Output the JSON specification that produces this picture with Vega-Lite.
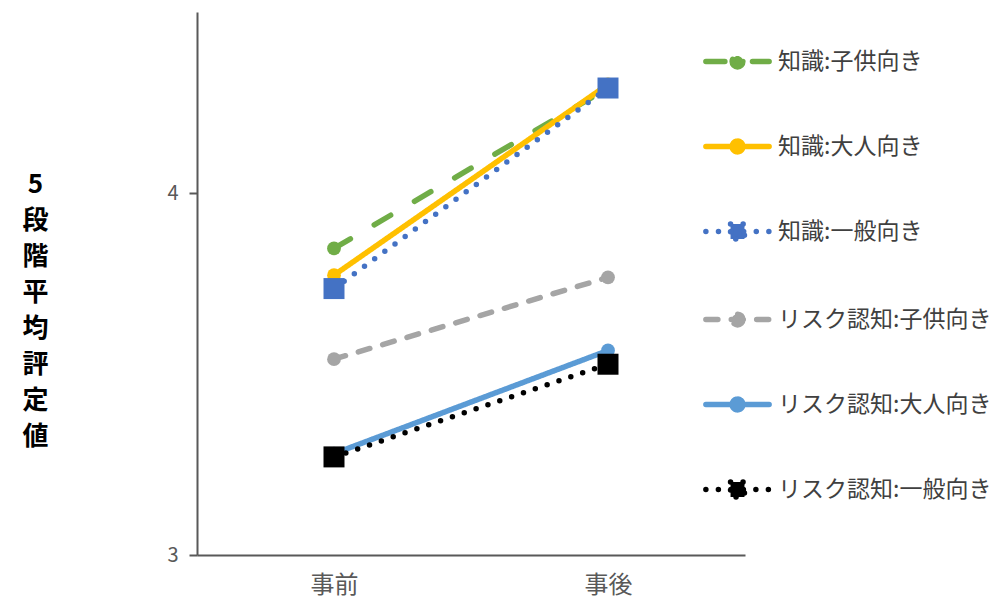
{
  "$schema": "https://vega.github.io/schema/vega-lite/v6.json",
  "autosize": {"type": "none"},
  "padding": {"left": 197, "top": 12, "right": 247, "bottom": 54},
  "width": 548,
  "height": 543,
  "background": "white",
  "config": {
    "view": {"stroke": null},
    "font": "Noto Sans CJK JP"
  },
  "data": {
    "values": [
      {"series": "知識:子供向き", "time": "事前", "value": 3.847},
      {"series": "知識:子供向き", "time": "事後", "value": 4.29},
      {"series": "知識:大人向き", "time": "事前", "value": 3.773},
      {"series": "知識:大人向き", "time": "事後", "value": 4.3},
      {"series": "知識:一般向き", "time": "事前", "value": 3.736},
      {"series": "知識:一般向き", "time": "事後", "value": 4.29},
      {"series": "リスク認知:子供向き", "time": "事前", "value": 3.541},
      {"series": "リスク認知:子供向き", "time": "事後", "value": 3.767},
      {"series": "リスク認知:大人向き", "time": "事前", "value": 3.28},
      {"series": "リスク認知:大人向き", "time": "事後", "value": 3.565},
      {"series": "リスク認知:一般向き", "time": "事前", "value": 3.271},
      {"series": "リスク認知:一般向き", "time": "事後", "value": 3.527}
    ]
  },
  "encoding": {
    "x": {
      "field": "time",
      "type": "nominal",
      "sort": ["事前", "事後"],
      "scale": {"type": "point", "padding": 0.5},
      "axis": {
        "title": null,
        "ticks": false,
        "labelAngle": 0,
        "labelFontSize": 24,
        "labelColor": "#595959",
        "labelPadding": 18,
        "domainColor": "#595959",
        "domainWidth": 2
      }
    },
    "y": {
      "field": "value",
      "type": "quantitative",
      "scale": {"domain": [3, 4.5], "nice": false, "zero": false},
      "axis": {
        "values": [3, 4],
        "grid": false,
        "format": "d",
        "labelFontSize": 20,
        "labelColor": "#595959",
        "labelPadding": 11,
        "tickSize": 8,
        "tickWidth": 2,
        "tickColor": "#595959",
        "domainColor": "#595959",
        "domainWidth": 2,
        "title": ["5", "段", "階", "平", "均", "評", "定", "値"],
        "titleAngle": 0,
        "titleFontSize": 26,
        "titleFontWeight": "bold",
        "titleColor": "#000000",
        "titleLineHeight": 36,
        "titleAlign": "center",
        "titleBaseline": "top",
        "titleX": -162,
        "titleY": 159
      }
    },
    "color": {
      "field": "series",
      "type": "nominal",
      "scale": {
        "domain": ["知識:子供向き", "知識:大人向き", "知識:一般向き", "リスク認知:子供向き", "リスク認知:大人向き", "リスク認知:一般向き"],
        "range": ["#70AD47", "#FFC000", "#4472C4", "#A5A5A5", "#5B9BD5", "#000000"]
      },
      "legend": {
        "orient": "none",
        "legendX": 506,
        "legendY": 15,
        "title": null,
        "padding": 0,
        "symbolSize": 4000,
        "symbolStrokeWidth": 5.5,
        "symbolType": "M-1,0H1",
        "labelFontSize": 23,
        "labelColor": "#404040",
        "labelOffset": 6,
        "labelLimit": 400,
        "rowPadding": 34,
        "encode": {
          "symbols": {
            "update": {
              "shape": {"signal": "indexof(['知識:一般向き','リスク認知:一般向き'], datum.value) >= 0 ? 'M-1,0H1M-0.22,-0.24H0.22V0.24H-0.22Z' : 'M-1,0H1M0.17,0A0.17,0.17 0 1,1 -0.17,0A0.17,0.17 0 1,1 0.17,0Z'"},
              "size": {"value": 4000},
              "fill": {"scale": "color", "field": "value"},
              "stroke": {"scale": "color", "field": "value"},
              "strokeCap": {"value": "round"},
              "opacity": {"value": 1}
            }
          }
        }
      }
    }
  },
  "layer": [
    {
      "mark": {"type": "line", "strokeWidth": 5.5, "strokeCap": "round"},
      "encoding": {
        "strokeDash": {
          "field": "series",
          "type": "nominal",
          "scale": {
            "domain": ["知識:子供向き", "知識:大人向き", "知識:一般向き", "リスク認知:子供向き", "リスク認知:大人向き", "リスク認知:一般向き"],
            "range": [[19, 27.6], [1, 0], [0, 12.6], [12, 13.4], [1, 0], [0, 12.5]]
          }
        }
      }
    },
    {
      "transform": [
        {"filter": {"field": "series", "oneOf": ["知識:子供向き", "知識:大人向き", "リスク認知:子供向き", "リスク認知:大人向き"]}}
      ],
      "mark": {"type": "point", "shape": "circle", "filled": true, "opacity": 1, "size": 190}
    },
    {
      "transform": [
        {"filter": {"field": "series", "oneOf": ["知識:一般向き", "リスク認知:一般向き"]}}
      ],
      "mark": {"type": "point", "shape": "square", "filled": true, "opacity": 1, "size": 441}
    }
  ]
}
